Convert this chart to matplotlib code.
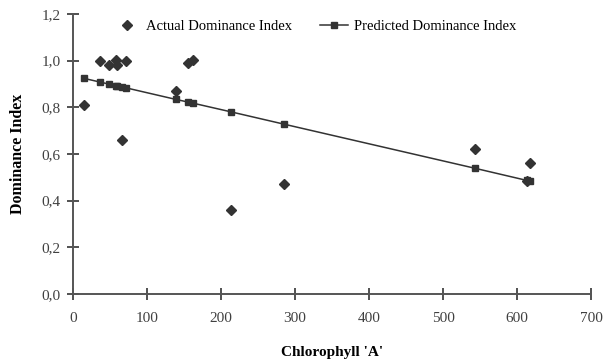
import matplotlib
matplotlib.use("Agg")
import matplotlib.pyplot as plt
from matplotlib.ticker import FuncFormatter

# chlorophyll 'A' values and the two series
chlorophyll = [15, 37, 48, 58, 60, 66, 71, 139, 155, 162, 213, 285, 543, 613, 617]
actual = [0.81, 1.00, 0.98, 1.005, 0.98, 0.66, 1.00, 0.87, 0.99, 1.005, 0.36, 0.47, 0.62, 0.485, 0.56]
predicted = [0.924, 0.908, 0.900, 0.893, 0.892, 0.888, 0.884, 0.834, 0.823, 0.818, 0.781, 0.728, 0.539, 0.487, 0.484]

plt.rcParams['font.family'] = ['Liberation Serif', 'DejaVu Serif']

fig = plt.figure(figsize=(6.05, 3.62), dpi=100)
ax = fig.add_axes([0.1207, 0.1878, 0.8562, 0.7735])

ax.plot(chlorophyll, actual, linestyle='none', marker='D', markersize=5.5,
        color='#333333', label='Actual Dominance Index')
ax.plot(chlorophyll, predicted, linestyle='-', linewidth=1.1, marker='s', markersize=5,
        color='#333333', label='Predicted Dominance Index')

ax.set_xlim(0, 700)
ax.set_ylim(0, 1.2)
ax.set_xticks(range(0, 701, 100))
ax.set_yticks([0, 0.2, 0.4, 0.6, 0.8, 1.0, 1.2])
ax.yaxis.set_major_formatter(FuncFormatter(lambda v, p: f"{v:.1f}".replace('.', ',')))

for s in ['top', 'right']:
    ax.spines[s].set_visible(False)
for s in ['left', 'bottom']:
    ax.spines[s].set_color('#555555')
    ax.spines[s].set_linewidth(1.4)

ax.tick_params(direction='inout', length=8, width=1.2, color='#333333',
               labelsize=11, labelcolor='#404040')
ax.tick_params(axis='x', pad=9)
ax.tick_params(axis='y', pad=5)

ax.set_xlabel("Chlorophyll 'A'", fontsize=11, fontweight='bold', labelpad=15)
ax.set_ylabel("Dominance Index", fontsize=11.5, fontweight='bold', labelpad=11)

ax.legend(loc='center', bbox_to_anchor=(0.466, 0.954), ncol=2, frameon=False,
          fontsize=10.5, handlelength=1.9, columnspacing=1.9, handletextpad=0.4)

fig.savefig('out.png', dpi=100)
